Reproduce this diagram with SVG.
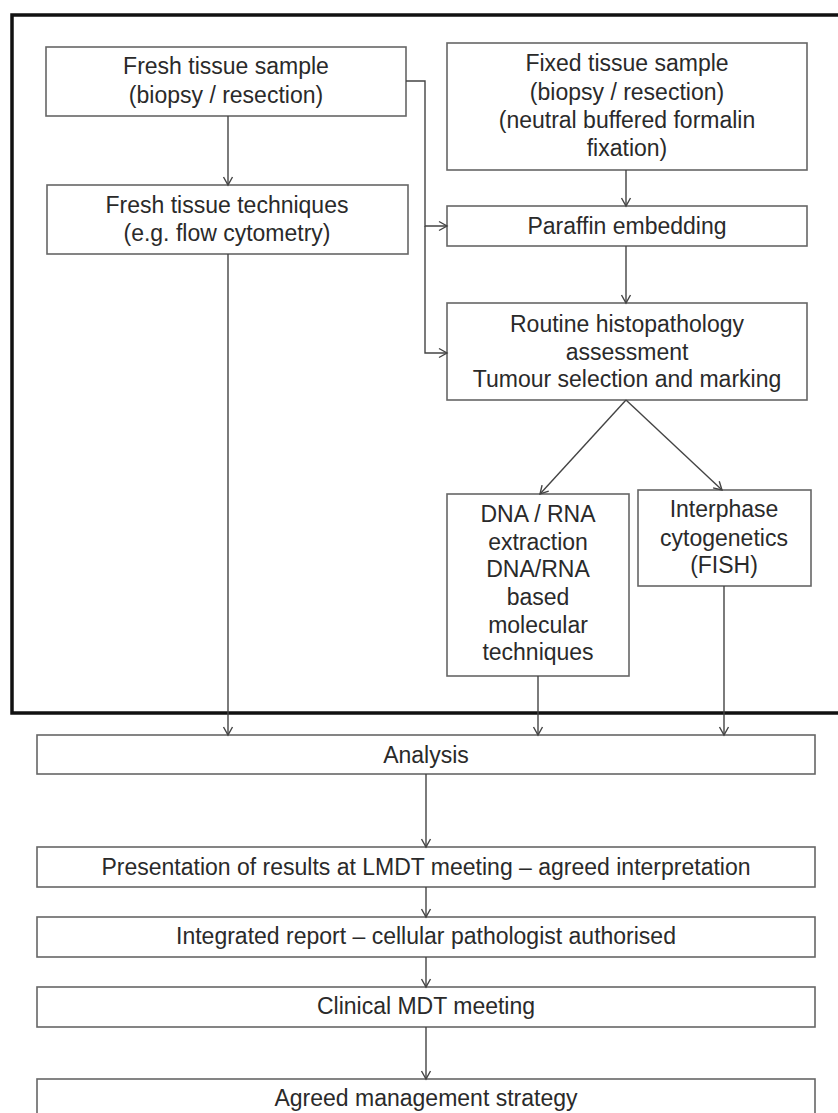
<svg xmlns="http://www.w3.org/2000/svg" width="838" height="1113" viewBox="0 0 838 1113">
<defs>
<marker id="arr" markerUnits="userSpaceOnUse" markerWidth="12" markerHeight="12" viewBox="-10 -6 12 12" refX="0" refY="0" orient="auto">
<path d="M-8,-4.5 L0,0 L-8,4.5" fill="none" stroke="#444" stroke-width="1.4"/>
</marker>
</defs>
<style>
.box{fill:#fff;stroke:#666;stroke-width:1.6}
.frame{fill:none;stroke:#111;stroke-width:3.5}
.t{font-family:"Liberation Sans",Arial,sans-serif;font-size:23px;fill:#2a2a2a;text-anchor:middle}
.c{fill:none;stroke:#444;stroke-width:1.4}
.ca{fill:none;stroke:#444;stroke-width:1.4;marker-end:url(#arr)}
</style>
<rect width="838" height="1113" fill="#fff"/>
<rect id="frame" class="frame" x="12" y="15" width="840" height="698"/>

<g id="fresh-sample">
<rect class="box" x="46" y="47" width="360" height="69"/>
<text class="t" x="226" y="74">Fresh tissue sample</text>
<text class="t" x="226" y="103">(biopsy / resection)</text>
</g>
<g id="fresh-techniques">
<rect class="box" x="47" y="185" width="361" height="69"/>
<text class="t" x="227" y="213">Fresh tissue techniques</text>
<text class="t" x="227" y="241">(e.g. flow cytometry)</text>
</g>
<g id="fixed-sample">
<rect class="box" x="447" y="43" width="360" height="127"/>
<text class="t" x="627" y="71">Fixed tissue sample</text>
<text class="t" x="627" y="100">(biopsy / resection)</text>
<text class="t" x="627" y="128">(neutral buffered formalin</text>
<text class="t" x="627" y="156">fixation)</text>
</g>
<g id="paraffin">
<rect class="box" x="447" y="206" width="360" height="40"/>
<text class="t" x="627" y="234">Paraffin embedding</text>
</g>
<g id="routine">
<rect class="box" x="447" y="303" width="360" height="97"/>
<text class="t" x="627" y="332">Routine histopathology</text>
<text class="t" x="627" y="360">assessment</text>
<text class="t" x="627" y="387">Tumour selection and marking</text>
</g>
<g id="dna-rna">
<rect class="box" x="447" y="494" width="182" height="182"/>
<text class="t" x="538" y="522">DNA / RNA</text>
<text class="t" x="538" y="550">extraction</text>
<text class="t" x="538" y="577">DNA/RNA</text>
<text class="t" x="538" y="605">based</text>
<text class="t" x="538" y="633">molecular</text>
<text class="t" x="538" y="660">techniques</text>
</g>
<g id="interphase">
<rect class="box" x="638" y="490" width="173" height="96"/>
<text class="t" x="724" y="517">Interphase</text>
<text class="t" x="724" y="546">cytogenetics</text>
<text class="t" x="724" y="573">(FISH)</text>
</g>
<g id="analysis">
<rect class="box" x="37" y="735" width="778" height="39"/>
<text class="t" x="426" y="763">Analysis</text>
</g>
<g id="presentation">
<rect class="box" x="37" y="847" width="778" height="40"/>
<text class="t" x="426" y="875">Presentation of results at LMDT meeting – agreed interpretation</text>
</g>
<g id="integrated">
<rect class="box" x="37" y="917" width="778" height="40"/>
<text class="t" x="426" y="944">Integrated report – cellular pathologist authorised</text>
</g>
<g id="clinical">
<rect class="box" x="37" y="987" width="778" height="40"/>
<text class="t" x="426" y="1014">Clinical MDT meeting</text>
</g>
<g id="agreed">
<rect class="box" x="37" y="1079" width="778" height="45"/>
<text class="t" x="426" y="1106">Agreed management strategy</text>
</g>

<g id="connectors">
<path class="ca" d="M228,116 V185"/>
<path class="ca" d="M406,81 H425 V226 H447"/>
<path class="ca" d="M425,226 V353 H447"/>
<path class="ca" d="M626,170 V206"/>
<path class="ca" d="M626,246 V303"/>
<path class="ca" d="M626,400 L540,494"/>
<path class="ca" d="M626,400 L722,490"/>
<path class="ca" d="M228,254 V735"/>
<path class="ca" d="M538,676 V735"/>
<path class="ca" d="M724,586 V735"/>
<path class="ca" d="M426,774 V847"/>
<path class="ca" d="M426,887 V917"/>
<path class="ca" d="M426,957 V987"/>
<path class="ca" d="M426,1027 V1079"/>
</g>
</svg>
